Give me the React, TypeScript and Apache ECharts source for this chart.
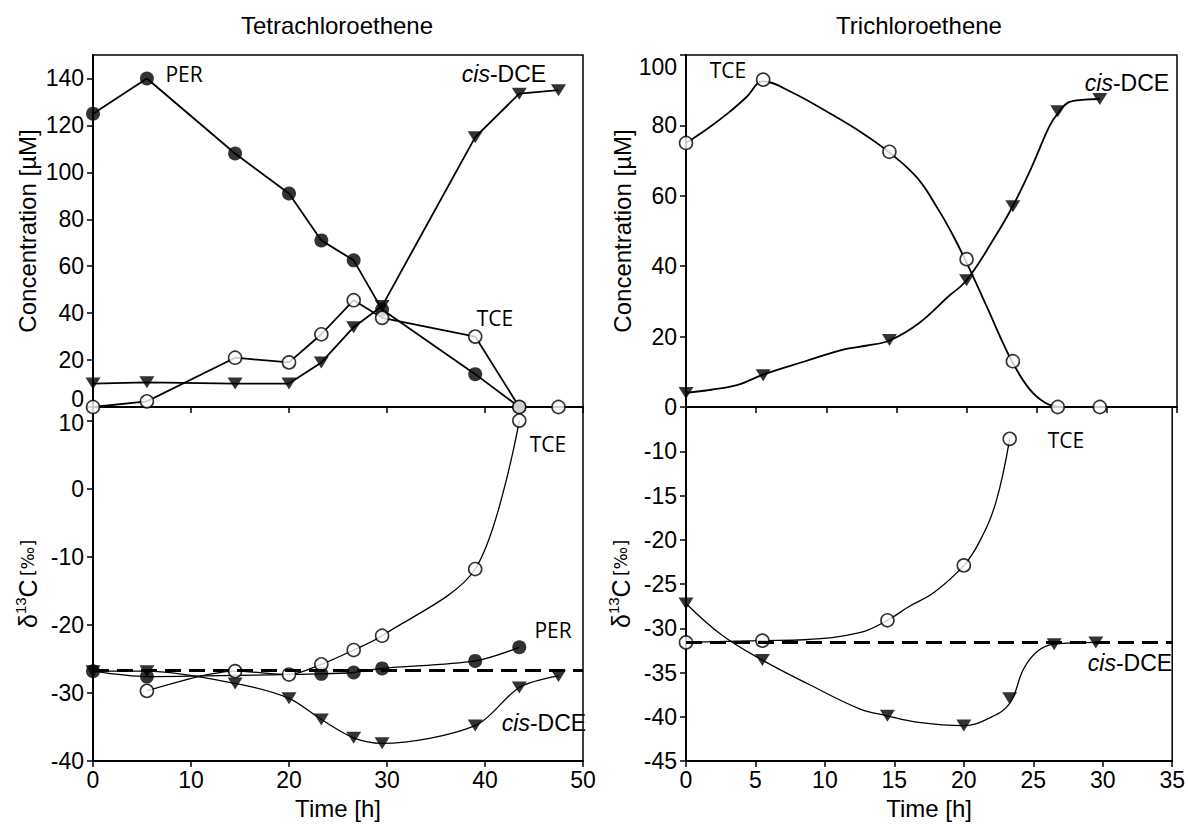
import React, { useEffect, useRef } from "react";
import * as echarts from "echarts";

// ---- Tetrachloroethene experiment (left) ----
const timePer = [0, 5.5, 14.5, 20, 23.3, 26.6, 29.5, 39, 43.5, 47.5];
const perConc = [125, 140, 108, 91, 71, 62.5, 41.5, 14, 0];
const tceConcA = [0, 2.4, 21, 19, 31, 45.5, 38, 30, 0, 0];
const dceConcA = [10, 10.5, 10, 10, 19, 34, 43, 115, 133.5, 135];

const perDeltaTime = [0, 5.5, 23.3, 26.6, 29.5, 39, 43.5];
const perDelta = [-26.8, -27.6, -27.2, -27.0, -26.4, -25.3, -23.3];
const tceDeltaTimeA = [5.5, 14.5, 20, 23.3, 26.6, 29.5, 39, 43.5];
const tceDeltaA = [-29.7, -26.8, -27.3, -25.8, -23.7, -21.6, -11.8, 10];
const dceDeltaA = [-26.8, -26.8, -28.6, -30.8, -33.9, -36.6, -37.4, -34.8, -29.2, -27.5];
const perSource = -26.6;

// ---- Trichloroethene experiment (right) ----
const timeTce = [0, 5.5, 14.5, 20, 23.3, 26.5, 29.5];
const tceConcB = [75, 93, 72.5, 42, 13, 0, 0];
const dceConcB = [4, 9, 19, 36, 57, 84, 87.5];
const tceDeltaTimeB = [0, 5.5, 14.5, 20, 23.3];
const tceDeltaB = [-31.6, -31.4, -29.1, -22.9, -8.6];
const dceDeltaB = [-27.2, -33.6, -39.9, -41.0, -37.9, -31.8, -31.6];
const tceSource = -31.6;

// fitted curves of the TCE experiment
const tceFitTimeB = [0, 1.5, 3, 4.3, 5.5, 7.5, 10, 12.5, 14.5, 16.5, 18, 19, 20, 21.5, 22.5, 23.3, 24.5, 25.6, 26.5];
const tceFitConcB = [75, 79, 83.5, 88, 92.5, 89.5, 84, 78, 72.3, 65, 56, 49, 41, 28, 19, 12.5, 5, 1.2, 0];
const dceFitTimeB = [0, 1.8, 3.7, 5.5, 8.5, 11.2, 12.8, 14.5, 16.6, 18.7, 20, 21.9, 23.3, 24.6, 25.9, 26.5, 27.3, 28.4, 29.5];
const dceFitConcB = [4, 4.9, 6.3, 9.2, 13, 16.3, 17.4, 18.9, 23.8, 31.4, 36, 47.5, 57.1, 67.8, 79.7, 83.4, 86.6, 87.3, 87.5];
const tceFitDeltaTimeB = [0, 5.5, 8.5, 12.5, 14.5, 16, 17.9, 20, 21.1, 22.3, 23.3];
const tceFitDeltaB = [-31.6, -31.4, -31.3, -30.5, -29.1, -27.6, -25.9, -22.9, -20.3, -15.8, -8.6];
const dceFitDeltaTimeB = [0, 2.6, 5.5, 8.8, 12.5, 14.5, 16.6, 20, 21.9, 23.3, 24.3, 25.3, 26.5, 29.5];
const dceFitDeltaB = [-27.2, -30.8, -33.6, -36.3, -39.1, -39.9, -40.6, -41, -40.1, -38.5, -34.6, -32.6, -31.8, -31.6];

const FONT = "Liberation Sans";
const LABEL_FONT = "Open Sans";

const pairs = (xs: number[], ys: number[]) => ys.map((y, i) => [xs[i], y]);

function curve(grid: number, xs: number[], ys: number[], smooth: number | boolean, width: number) {
  return {
    type: "line",
    xAxisIndex: grid,
    yAxisIndex: grid,
    data: pairs(xs, ys),
    symbol: "none",
    showSymbol: false,
    smooth,
    lineStyle: { color: "#000", width },
    z: 2,
    silent: true,
  };
}

function markers(grid: number, xs: number[], ys: number[], kind: "filled" | "open" | "tri") {
  const base: any = {
    type: "scatter",
    xAxisIndex: grid,
    yAxisIndex: grid,
    data: pairs(xs, ys),
    silent: true,
    z: kind === "open" ? 4 : 3,
  };
  if (kind === "filled") {
    base.symbol = "circle";
    base.symbolSize = 14;
    base.itemStyle = { color: "#000" };
  } else if (kind === "open") {
    base.symbol = "circle";
    base.symbolSize = 13;
    base.itemStyle = { color: "#fff", borderColor: "#000", borderWidth: 1.6 };
  } else {
    base.symbol = "triangle";
    base.symbolRotate = 180;
    base.symbolSize = [15, 12];
    base.itemStyle = { color: "#000" };
  }
  return base;
}

function sourceLine(grid: number, value: number) {
  return {
    type: "line",
    xAxisIndex: grid,
    yAxisIndex: grid,
    data: [],
    silent: true,
    markLine: {
      silent: true,
      symbol: ["none", "none"],
      label: { show: false },
      lineStyle: { color: "#000", width: 3, type: [16, 8] },
      data: [{ yAxis: value }],
    },
    z: 1,
  };
}

const axisLine = { onZero: false, lineStyle: { color: "#000", width: 2 } };
const axisTick = { inside: false, length: 6, lineStyle: { color: "#000", width: 1.5 } };
const tickLabel = { color: "#000", fontFamily: FONT, fontSize: 23 };

function xAxis(grid: number, max: number, interval: number, labels: boolean) {
  return {
    type: "value",
    gridIndex: grid,
    min: 0,
    max,
    interval,
    axisLine,
    axisTick,
    splitLine: { show: false },
    axisLabel: { ...tickLabel, show: labels, margin: 7 },
    name: labels ? "Time [h]" : "",
    nameLocation: "middle",
    nameGap: 35,
    nameTextStyle: { color: "#000", fontFamily: FONT, fontSize: 24 },
  };
}

function yAxis(grid: number, min: number, max: number, interval: number, name: any, extra: any = {}) {
  return {
    type: "value",
    gridIndex: grid,
    min,
    max,
    interval,
    axisLine,
    axisTick,
    splitLine: { show: false },
    axisLabel: { ...tickLabel, margin: 9, showMaxLabel: false, ...(extra.axisLabel || {}) },
    nameLocation: "middle",
    nameGap: extra.nameGap ?? 52,
    nameRotate: 90,
    ...name,
  };
}

const concName = {
  name: "Concentration [µM]",
  nameTextStyle: { color: "#000", fontFamily: FONT, fontSize: 24 },
};
const deltaName = {
  name: "{d|δ}{s|13}{d|C} {p|[‰]}",
  nameTextStyle: {
    color: "#000",
    rich: {
      d: { fontFamily: FONT, fontSize: 25, color: "#000", lineHeight: 30 },
      s: { fontFamily: FONT, fontSize: 15, color: "#000", verticalAlign: "top", lineHeight: 30 },
      p: { fontFamily: "DejaVu Sans", fontSize: 17, color: "#000", lineHeight: 30 },
    },
  },
};

// the zero of the PER concentration panel sits just above the isotope panel's first label
const zeroRaised = {
  formatter: (v: number) => (v === 0 ? "{z|0}" : String(v)),
  rich: { z: { fontFamily: FONT, fontSize: 23, color: "#000", padding: [0, 0, 16, 0] } },
};
// the 100 of the TCE concentration panel hangs below the frame corner
const topLowered = {
  showMaxLabel: true,
  formatter: (v: number) => (v === 100 ? "{t|100}" : String(v)),
  rich: { t: { fontFamily: FONT, fontSize: 23, color: "#000", padding: [24, 0, 0, 0] } },
};
const tenLowered = {
  formatter: (v: number) => (v === 10 ? "{c|10}" : String(v)),
  rich: { c: { fontFamily: FONT, fontSize: 23, color: "#000", padding: [4, 0, 0, 0] } },
};

function note(x: number, y: number, text: string) {
  return {
    type: "text",
    x,
    y,
    silent: true,
    style: {
      text,
      fill: "#000",
      font: `21px '${LABEL_FONT}'`,
      align: "center",
      verticalAlign: "middle",
      textAlign: "center",
      textVerticalAlign: "middle",
    },
  };
}

function dceNote(x: number, y: number) {
  return {
    type: "text",
    x,
    y,
    silent: true,
    style: {
      text: "{i|cis}{n|-DCE}",
      fill: "#000",
      align: "center",
      verticalAlign: "middle",
      textAlign: "center",
      textVerticalAlign: "middle",
      rich: {
        i: { fontFamily: FONT, fontSize: 23, fontStyle: "italic", fill: "#000" },
        n: { fontFamily: FONT, fontSize: 23, fill: "#000" },
      },
    },
  };
}

function title(x: number, text: string) {
  return {
    type: "text",
    x,
    y: 25,
    silent: true,
    style: {
      text,
      fill: "#000",
      font: `24px '${FONT}'`,
      align: "center",
      verticalAlign: "middle",
      textAlign: "center",
      textVerticalAlign: "middle",
    },
  };
}

export default function App() {
  const ref = useRef<HTMLDivElement>(null);

  useEffect(() => {
    if (!ref.current) return;
    const chart = echarts.init(ref.current, null, { renderer: "svg" });
    const gridStyle = { show: true, borderColor: "#000", borderWidth: 1.5, backgroundColor: "transparent" };

    chart.setOption({
      animation: false,
      backgroundColor: "#fff",
      grid: [
        { left: 93, top: 55, width: 490, height: 352, ...gridStyle },
        { left: 93, top: 407, width: 490, height: 354, ...gridStyle },
        { left: 686, top: 55, width: 491, height: 352, ...gridStyle },
        { left: 686, top: 407, width: 491, height: 354, ...gridStyle },
      ],
      xAxis: [xAxis(0, 50, 10, false), xAxis(1, 50, 10, true), xAxis(2, 35, 5, false), xAxis(3, 35, 5, true)],
      yAxis: [
        yAxis(0, 0, 150, 20, concName, { axisLabel: zeroRaised, nameGap: 54 }),
        yAxis(1, -40, 12, 10, deltaName, { axisLabel: tenLowered, nameGap: 50 }),
        yAxis(2, 0, 100, 20, concName, { axisLabel: topLowered, nameGap: 42 }),
        yAxis(3, -45, -5, 5, deltaName, { nameGap: 50 }),
      ],
      series: [
        // concentrations, PER experiment
        curve(0, timePer, perConc, false, 1.8),
        curve(0, timePer, tceConcA, false, 1.8),
        curve(0, timePer, dceConcA, false, 1.8),
        markers(0, timePer, perConc, "filled"),
        markers(0, timePer, dceConcA, "tri"),
        markers(0, timePer, tceConcA, "open"),
        // isotope signatures, PER experiment
        sourceLine(1, perSource),
        curve(1, perDeltaTime, perDelta, 0.3, 1.3),
        curve(1, tceDeltaTimeA, tceDeltaA, 0.3, 1.3),
        curve(1, timePer, dceDeltaA, 0.3, 1.3),
        markers(1, perDeltaTime, perDelta, "filled"),
        markers(1, timePer, dceDeltaA, "tri"),
        markers(1, tceDeltaTimeA, tceDeltaA, "open"),
        // concentrations, TCE experiment
        curve(2, tceFitTimeB, tceFitConcB, 0.4, 1.8),
        curve(2, dceFitTimeB, dceFitConcB, 0.4, 1.8),
        markers(2, timeTce, dceConcB, "tri"),
        markers(2, timeTce, tceConcB, "open"),
        // isotope signatures, TCE experiment
        sourceLine(3, tceSource),
        curve(3, tceFitDeltaTimeB, tceFitDeltaB, 0.4, 1.3),
        curve(3, dceFitDeltaTimeB, dceFitDeltaB, 0.4, 1.3),
        markers(3, timeTce, dceDeltaB, "tri"),
        markers(3, tceDeltaTimeB, tceDeltaB, "open"),
      ],
      graphic: [
        title(337, "Tetrachloroethene"),
        title(919, "Trichloroethene"),
        note(184, 74, "PER"),
        dceNote(504, 74),
        note(495, 318, "TCE"),
        note(548, 444, "TCE"),
        note(553, 630, "PER"),
        dceNote(544, 723),
        note(728, 70, "TCE"),
        dceNote(1127, 83),
        note(1066, 440, "TCE"),
        dceNote(1130, 663),
      ],
    });

    return () => chart.dispose();
  }, []);

  return (
    <div
      ref={ref}
      style={{ position: "absolute", left: 0, top: 0, width: 1188, height: 824, background: "#fff" }}
    />
  );
}
